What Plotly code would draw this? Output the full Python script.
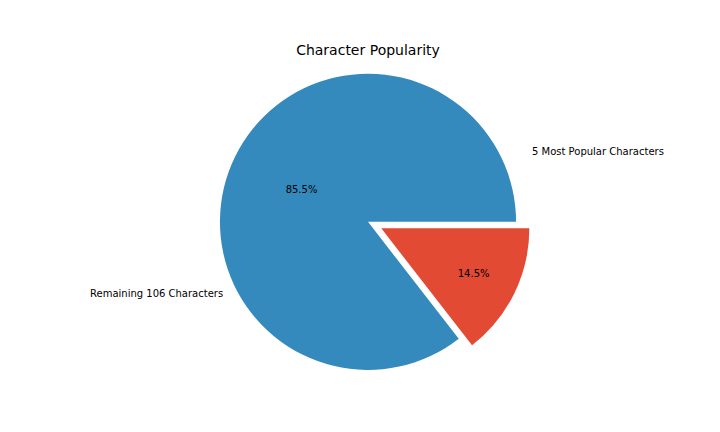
import plotly.graph_objects as go

labels = ['5 Most Popular Characters', 'Remaining 106 Characters']
values = [14.5, 85.5]
colors = ['#E24A33', '#348ABD']

fig = go.Figure()
fig.add_trace(go.Pie(
    labels=labels,
    values=values,
    sort=False,
    direction='counterclockwise',
    rotation=90,
    pull=[0.1, 0],
    marker=dict(colors=colors),
    textinfo='percent',
    texttemplate='%{percent:.1%}',
    textposition='inside',
    insidetextorientation='horizontal',
    textfont=dict(family='DejaVu Sans', size=10, color='black'),
    domain=dict(x=[0, 1], y=[0.128, 0.882]),
    showlegend=False,
    hoverinfo='label+percent'
))

fig.add_annotation(x=522 / 720, y=1 - 136 / 432, xref='paper', yref='paper',
                   text=labels[0], showarrow=False, xanchor='left',
                   font=dict(family='DejaVu Sans', size=10, color='black'))
fig.add_annotation(x=217 / 720, y=1 - 285 / 432, xref='paper', yref='paper',
                   text=labels[1], showarrow=False, xanchor='right',
                   font=dict(family='DejaVu Sans', size=10, color='black'))

fig.update_layout(
    title=dict(text='Character Popularity', x=0.5, y=1 - 42 / 432, xanchor='center', yanchor='middle',
               font=dict(family='DejaVu Sans', size=14, color='black')),
    width=720, height=432,
    margin=dict(l=0, r=0, t=0, b=0),
    paper_bgcolor='white',
    plot_bgcolor='white'
)

fig.write_html('out.html')
